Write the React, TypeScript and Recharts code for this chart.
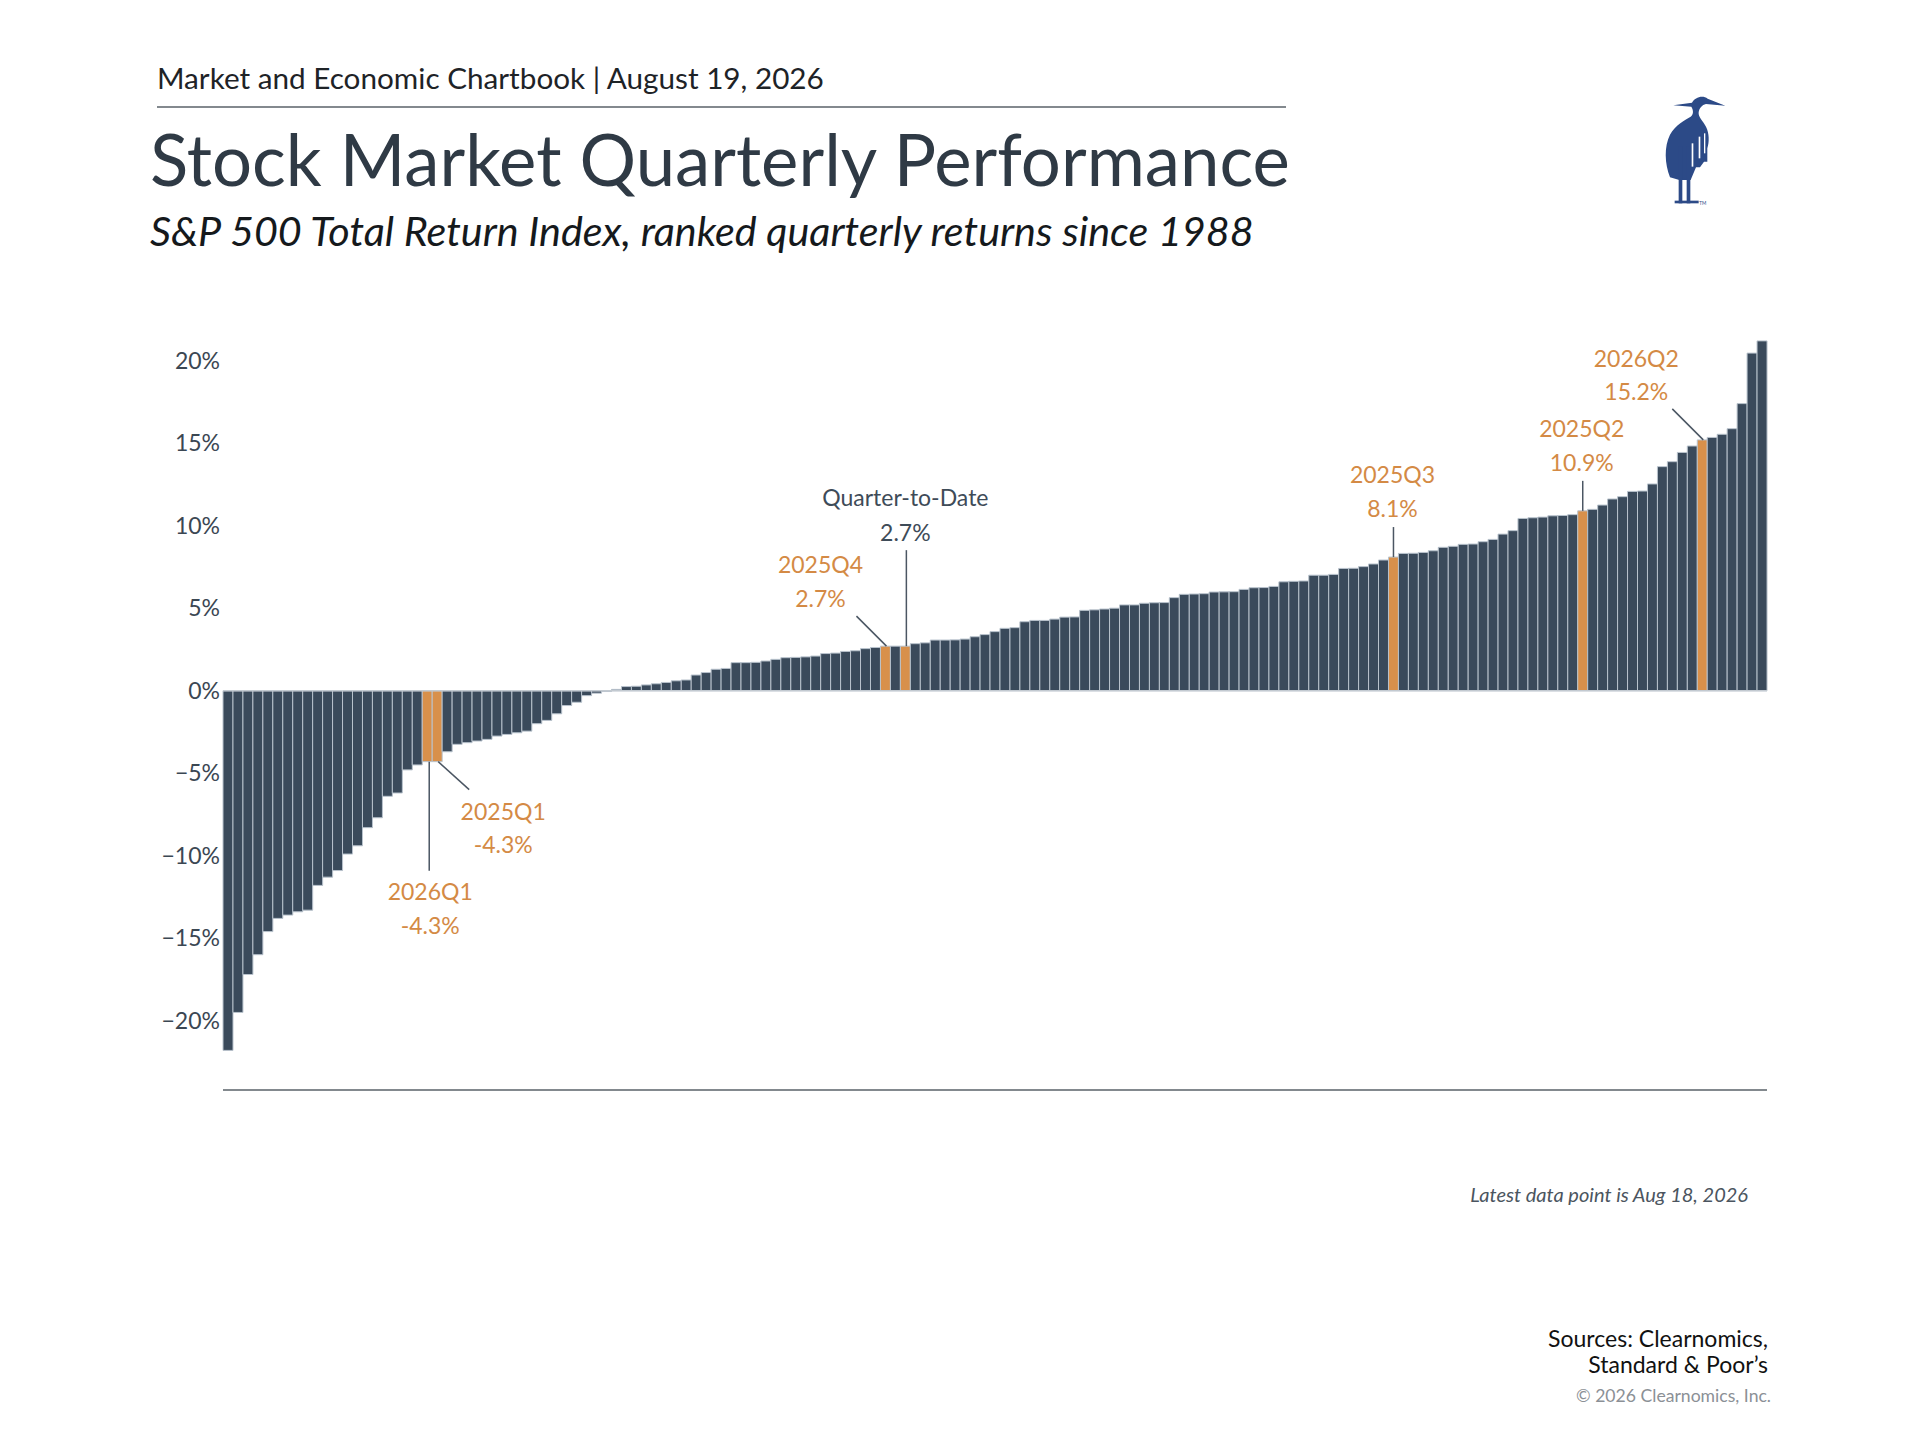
import React from 'react';
import { BarChart, Bar, XAxis, YAxis, Cell, LabelList, ReferenceLine } from 'recharts';

// S&P 500 quarterly total returns since 1988, ranked low to high (%)
const RETURNS = [
  -21.8, -19.5, -17.2, -16.0, -14.6, -13.8, -13.6, -13.4, -13.3, -11.8,
  -11.3, -10.9, -9.9, -9.4, -8.3, -7.7, -6.4, -6.2, -4.8, -4.5,
  -4.3, -4.3, -3.7, -3.25, -3.15, -3.05, -2.95, -2.75, -2.65, -2.55,
  -2.45, -2.0, -1.8, -1.4, -0.9, -0.7, -0.3, -0.15, -0.05, 0.08,
  0.25, 0.27, 0.35, 0.42, 0.5, 0.6, 0.65, 0.95, 1.1, 1.3,
  1.35, 1.7, 1.7, 1.72, 1.8, 1.9, 2.0, 2.02, 2.05, 2.1,
  2.25, 2.28, 2.38, 2.42, 2.55, 2.62, 2.7, 2.7, 2.7, 2.85,
  2.9, 3.07, 3.07, 3.08, 3.13, 3.27, 3.4, 3.58, 3.78, 3.82,
  4.18, 4.26, 4.26, 4.34, 4.46, 4.47, 4.87, 4.9, 4.95, 5.0,
  5.2, 5.2, 5.3, 5.33, 5.34, 5.64, 5.84, 5.86, 5.88, 5.98,
  5.99, 6.0, 6.14, 6.24, 6.25, 6.32, 6.6, 6.63, 6.65, 7.0,
  7.0, 7.05, 7.41, 7.42, 7.52, 7.68, 7.92, 8.1, 8.32, 8.33,
  8.38, 8.48, 8.69, 8.75, 8.87, 8.89, 9.03, 9.17, 9.49, 9.7,
  10.44, 10.48, 10.52, 10.6, 10.62, 10.67, 10.9, 10.99, 11.25, 11.62,
  11.76, 12.08, 12.1, 12.53, 13.58, 13.88, 14.44, 14.83, 15.2, 15.35,
  15.54, 15.88, 17.4, 20.46, 21.2,
];

// highlighted quarters: position in the ranking and their names
const NOTE_RANKS = [20, 21, 66, 68, 117, 136, 148];
const NOTE_NAMES = ['2026Q1', '2025Q1', '2025Q4', 'Quarter-to-Date', '2025Q3', '2025Q2', '2026Q2'];

const Y_TICKS = [-20, -15, -10, -5, 0, 5, 10, 15, 20];

// leader line / text offsets from the bar end (layout only)
const NOTE_LAYOUT = [
  { line: [2, 0, 2, 109], dx: 3, dy1: 138, dy2: 172, dark: false },
  { line: [1, 0, 32, 28], dx: 66, dy1: 58, dy2: 91, dark: false },
  { line: [1, 0, -29, -30], dx: -65, dy1: -73, dy2: -39, dark: false },
  { line: [1, 0, 1, -96], dx: 0, dy1: -140, dy2: -105, dark: true },
  { line: [0, 0, 0, -30], dx: -1, dy1: -74, dy2: -40, dark: false },
  { line: [0, 0, 0, -30], dx: -1, dy1: -74, dy2: -40, dark: false },
  { line: [1, 0, -30, -31], dx: -66, dy1: -73, dy2: -40, dark: false },
];

const NAVY = '#3a4a5b';
const ORANGE = '#d8904b';
const FONT = 'Lato, "Noto Sans", sans-serif';

const data = RETURNS.map((ret, i) => ({ rank: i + 1, ret }));

const fmtTick = (v: number) => (v === 0 ? '0%' : v < 0 ? `\u2212${Math.abs(v)}%` : `${v}%`);

const renderNote = (props: any) => {
  const idx = props.index;
  const n = NOTE_RANKS.indexOf(idx);
  if (n < 0) return null;
  const vb = props.viewBox ?? props;
  const x = Number(vb.x), y = Number(vb.y), w = Number(vb.width), h = Number(vb.height);
  const cx = x + w / 2;
  const value = RETURNS[idx];
  const endY = value < 0 ? Math.max(y, y + h) : Math.min(y, y + h);
  const lay = NOTE_LAYOUT[n];
  const color = lay.dark ? '#3e4b58' : '#d48a45';
  return (
    <g key={`note-${idx}`}>
      <line
        x1={cx + lay.line[0]} y1={endY + lay.line[1]}
        x2={cx + lay.line[2]} y2={endY + lay.line[3]}
        stroke="#4b5663" strokeWidth={1.5}
      />
      <text x={cx + lay.dx} y={endY + lay.dy1} textAnchor="middle" fontSize={23} fill={color} fontFamily={FONT}>
        {NOTE_NAMES[n]}
      </text>
      <text x={cx + lay.dx} y={endY + lay.dy2} textAnchor="middle" fontSize={23} fill={color} fontFamily={FONT}>
        {`${value.toFixed(1)}%`}
      </text>
    </g>
  );
};

const Heron = () => (
  <g transform="translate(1620,80) scale(0.3333)" fill="#2c4a87">
    <path d="M160 76 L216 68 C224 52 248 44 263 56 L316 77 L258 72 C246 75 238 84 236 97 C234 112 250 124 258 140 C268 160 268 185 262 205 L262 245 L252 245 L240 262 L228 262 L212 300 L178 300 L150 292 C134 250 132 200 150 164 C166 134 196 120 212 110 C222 102 220 90 214 80 Z" />
    <rect x={176} y={200} width={11} height={170} />
    <rect x={200} y={200} width={11} height={170} />
    <rect x={164} y={362} width={72} height={8} />
    <rect x={215} y={190} width={5} height={70} fill="#fff" />
    <rect x={236} y={170} width={5} height={65} fill="#fff" />
    <rect x={252} y={160} width={4} height={60} fill="#fff" />
    <text x={238} y={376} fontSize={14} fill="#2c4a87" fontFamily={FONT}>TM</text>
  </g>
);

const App: React.FC = () => {
  return (
    <div style={{ position: 'absolute', left: 0, top: 0, width: 1920, height: 1440, background: '#fff' }}>
      <svg width={1920} height={1440} style={{ position: 'absolute', left: 0, top: 0 }}>
        <text x={157} y={89} fontSize={29.7} fill="#1e2327" fontFamily={FONT}>
          Market and Economic Chartbook | August 19, 2026
        </text>
        <line x1={157} y1={107} x2={1286} y2={107} stroke="#5a6269" strokeWidth={1.5} />
        <text x={150} y={186} fontSize={70.7} fill="#2f3a45" fontFamily={FONT}>
          Stock Market Quarterly Performance
        </text>
        <text x={150} y={246} fontSize={41.3} fontStyle="italic" fill="#15191c" fontFamily={FONT}>
          S&amp;P 500 Total Return Index, ranked quarterly returns since 1988
        </text>
        <Heron />
        <text x={1748} y={1202} fontSize={20} fontStyle="italic" textAnchor="end" fill="#4b5560" fontFamily={FONT}>
          Latest data point is Aug 18, 2026
        </text>
        <text x={1768} y={1347} fontSize={23} textAnchor="end" fill="#111" fontFamily={FONT}>
          Sources: Clearnomics,
        </text>
        <text x={1768} y={1373} fontSize={23} textAnchor="end" fill="#111" fontFamily={FONT}>
          Standard &amp; Poor’s
        </text>
        <text x={1771} y={1402} fontSize={17.6} textAnchor="end" fill="#8b9096" fontFamily={FONT}>
          © 2026 Clearnomics, Inc.
        </text>
      </svg>
      <div style={{ position: 'absolute', left: 0, top: 0 }}>
        <BarChart
          width={1920}
          height={1440}
          data={data}
          margin={{ top: 327.7, right: 153, bottom: 350, left: 143 }}
          barCategoryGap={0}
        >
          <XAxis dataKey="rank" hide />
          <YAxis
            width={80}
            domain={[-24.2, 22]}
            ticks={Y_TICKS}
            tickFormatter={fmtTick}
            axisLine={false}
            tickLine={false}
            tickSize={0}
            tickMargin={3}
            tick={{ fontSize: 23, fill: '#3b4753', fontFamily: FONT }}
          />
          <ReferenceLine y={0} stroke="#c3cad1" strokeWidth={1.5} />
          <ReferenceLine y={-24.2} stroke="#5a6269" strokeWidth={1.5} />
          <Bar dataKey="ret" isAnimationActive={false} stroke="#b9c3cd" strokeWidth={1}>
            {data.map((d, i) => (
              <Cell key={`c-${d.rank}`} fill={NOTE_RANKS.includes(i) ? ORANGE : NAVY} />
            ))}
            <LabelList dataKey="ret" content={renderNote} />
          </Bar>
        </BarChart>
      </div>
    </div>
  );
};

export default App;
